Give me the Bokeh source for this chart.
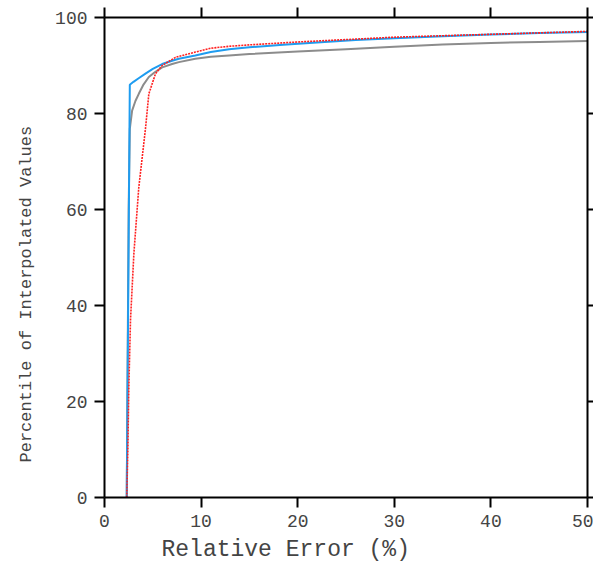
from bokeh.plotting import figure
from bokeh.models import Range1d, LinearAxis, FixedTicker, Title
from bokeh.embed import file_html
from bokeh.resources import INLINE

# Relative error (%) vs percentile of interpolated values
blue_x = [2.30, 2.45, 2.62, 3.0, 3.5, 4.24, 5.0, 5.97, 7.0, 7.7, 9.4, 11.0, 12.9, 15.0, 18.5, 22.0, 26.0, 30.0, 35.0, 40.0, 45.0, 50.0]
blue_y = [0.0, 40.0, 86.0, 86.6, 87.3, 88.3, 89.3, 90.3, 91.0, 91.4, 92.1, 92.8, 93.4, 93.8, 94.3, 94.8, 95.3, 95.7, 96.1, 96.45, 96.75, 97.0]

gray_x = [2.30, 2.40, 2.50, 2.62, 2.86, 3.2, 3.55, 4.0, 4.59, 5.2, 5.97, 7.0, 7.7, 9.4, 11.0, 12.9, 15.0, 20.0, 25.0, 30.0, 35.0, 40.0, 45.0, 50.0]
gray_y = [0.0, 30.0, 60.0, 76.8, 80.6, 82.6, 84.1, 85.9, 87.6, 88.6, 89.6, 90.3, 90.7, 91.4, 91.8, 92.1, 92.4, 92.9, 93.4, 93.9, 94.4, 94.7, 94.9, 95.1]

red_x = [2.30, 2.41, 2.52, 2.69, 3.04, 3.55, 4.24, 4.59, 5.28, 5.97, 7.35, 9.4, 11.0, 12.9, 15.0, 20.0, 25.0, 30.0, 35.0, 40.0, 45.0, 50.0]
red_y = [0.0, 9.2, 23.0, 36.9, 50.8, 64.6, 76.8, 84.1, 88.3, 90.0, 91.7, 92.8, 93.6, 94.0, 94.3, 94.9, 95.4, 95.9, 96.2, 96.5, 96.8, 97.1]

x_ticks = [0, 10, 20, 30, 40, 50]
y_ticks = [0, 20, 40, 60, 80, 100]
x_title = "Relative Error (%)"
y_title = "Percentile of Interpolated Values"

FONT = "Liberation Mono"
TXT = "#444444"

p = figure(width=593, height=573, output_backend="svg", toolbar_location=None,
           x_range=Range1d(0, 50), y_range=Range1d(0, 100),
           min_border_left=104, min_border_right=6, min_border_top=17, min_border_bottom=76)
p.outline_line_color = None
p.grid.visible = False

p.line(gray_x, gray_y, line_color="#8c8c8c", line_width=2)
p.line(blue_x, blue_y, line_color="#1e9cf0", line_width=2)
p.line(red_x, red_y, line_color="#ff2020", line_width=1.6, line_dash="2 1")

for ax in (p.xaxis[0], p.yaxis[0]):
    ax.axis_line_width = 2
    ax.axis_line_color = "black"
    ax.major_tick_line_width = 2
    ax.major_tick_line_color = "black"
    ax.major_tick_out = 10
    ax.major_tick_in = 0
    ax.minor_tick_line_color = None
    ax.major_label_text_font = FONT
    ax.major_label_text_font_size = "18px"
    ax.major_label_text_color = TXT
    ax.major_label_standoff = 7

p.xaxis[0].ticker = FixedTicker(ticks=x_ticks)
p.yaxis[0].ticker = FixedTicker(ticks=y_ticks)

top = LinearAxis(ticker=FixedTicker(ticks=x_ticks))
right = LinearAxis(ticker=FixedTicker(ticks=y_ticks))
for ax, out in ((top, 10), (right, 6)):
    ax.axis_line_width = 2
    ax.axis_line_color = "black"
    ax.major_tick_line_width = 2
    ax.major_tick_line_color = "black"
    ax.major_tick_out = out
    ax.major_tick_in = 0
    ax.minor_tick_line_color = None
    ax.major_label_text_font_size = "0px"
    ax.major_label_standoff = 0
    ax.major_label_text_alpha = 0
p.add_layout(top, "above")
p.add_layout(right, "right")

# axis titles, offset from the frame centre as in the original
p.add_layout(Title(text=x_title, align="left", offset=57, standoff=15, vertical_align="top",
                   text_font=FONT, text_font_size="23px", text_color=TXT,
                   text_font_style="normal"), "below")
p.add_layout(Title(text=y_title, align="left", offset=35, standoff=30, vertical_align="top",
                   text_font=FONT, text_font_size="17px", text_color=TXT,
                   text_font_style="normal"), "left")

open("out.html", "w").write(file_html(p, INLINE))
